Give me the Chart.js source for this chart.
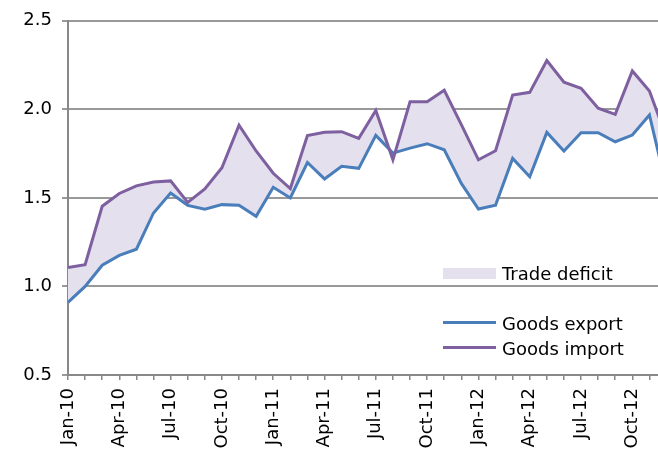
<!DOCTYPE html>
<html>
<head>
<meta charset="utf-8">
<script src="https://cdn.jsdelivr.net/npm/chart.js@4"></script>
<style>
  body { margin: 0; background: #fff; }
  #wrap { position: relative; width: 658px; height: 452px; overflow: hidden; }
  .key { position: absolute; left: 502px; font: 18px "DejaVu Sans", sans-serif; line-height: 18px; color: #000; white-space: nowrap; }
  .swatch { position: absolute; left: 443px; width: 53px; }
</style>
</head>
<body>
<div id="wrap">
  <canvas id="chart"></canvas>
  <div class="swatch" style="top:268px;height:11px;background:#e4e0ee"></div>
  <div class="key" style="top:265px">Trade deficit</div>
  <div class="swatch" style="top:321px;height:3px;background:#4a7ebb"></div>
  <div class="key" style="top:315px">Goods export</div>
  <div class="swatch" style="top:346px;height:3px;background:#7e60a0"></div>
  <div class="key" style="top:340px">Goods import</div>
</div>
<script>
// monthly, Jan-10 .. Dec-12 (last month is cut off at the right edge)
const months = [
  'Jan-10','Feb-10','Mar-10','Apr-10','May-10','Jun-10','Jul-10','Aug-10','Sep-10','Oct-10','Nov-10','Dec-10',
  'Jan-11','Feb-11','Mar-11','Apr-11','May-11','Jun-11','Jul-11','Aug-11','Sep-11','Oct-11','Nov-11','Dec-11',
  'Jan-12','Feb-12','Mar-12','Apr-12','May-12','Jun-12','Jul-12','Aug-12','Sep-12','Oct-12','Nov-12','Dec-12'
];
const goodsExport = [
  0.91, 1.00, 1.12, 1.175, 1.21, 1.415, 1.528, 1.458, 1.436, 1.462, 1.458, 1.396,
  1.56, 1.50, 1.70, 1.607, 1.679, 1.667, 1.853, 1.753, 1.781, 1.806, 1.772, 1.582,
  1.437, 1.459, 1.723, 1.619, 1.87, 1.765, 1.868, 1.868, 1.817, 1.855, 1.968, 1.56
];
const goodsImport = [
  1.107, 1.123, 1.453, 1.525, 1.568, 1.59, 1.596, 1.474, 1.55, 1.67, 1.91, 1.765,
  1.639, 1.553, 1.852, 1.871, 1.874, 1.836, 1.994, 1.715, 2.043, 2.043, 2.108, 1.914,
  1.715, 1.766, 2.081, 2.096, 2.276, 2.153, 2.119, 2.006, 1.972, 2.217, 2.104, 1.84
];
const yTicks = [0.5, 1.0, 1.5, 2.0, 2.5];

const blue = '#4a7ebb';
const purple = '#7e60a0';
const deficitFill = '#e4e0ee';
const font = { family: 'DejaVu Sans', size: 18 };

const pts = arr => arr.map((v, i) => ({ x: i, y: v }));

new Chart(document.getElementById('chart'), {
  type: 'line',
  data: {
    datasets: [
      { label: 'Goods export', data: pts(goodsExport), borderColor: blue, borderWidth: 3, pointRadius: 0, tension: 0, fill: false, order: 1 },
      { label: 'Goods import', data: pts(goodsImport), borderColor: purple, borderWidth: 3, pointRadius: 0, tension: 0, fill: false, order: 0 },
      { label: 'Trade deficit', data: pts(goodsImport), borderWidth: 0, borderColor: 'rgba(0,0,0,0)', backgroundColor: deficitFill, pointRadius: 0, tension: 0, fill: 0, order: 5 }
    ]
  },
  options: {
    responsive: true,
    maintainAspectRatio: false,
    animation: false,
    layout: { padding: { top: 19, right: 0, left: 0, bottom: 0 } },
    plugins: {
      legend: { display: false },
      tooltip: { enabled: false },
      filler: { drawTime: 'beforeDatasetsDraw' }
    },
    scales: {
      x: {
        type: 'linear',
        min: 0,
        max: 34.5,
        afterBuildTicks: s => { s.ticks = months.slice(0, 35).map((m, i) => ({ value: i })); },
        afterFit: s => { s.height = 77; s.paddingLeft = 0; s.paddingRight = 0; },
        ticks: {
          autoSkip: false,
          maxRotation: 90,
          minRotation: 90,
          padding: 8,
          color: '#000',
          font: font,
          callback: v => (v % 3 === 0 ? months[v] : '')
        },
        grid: { drawOnChartArea: false, drawTicks: true, tickLength: 5, color: '#888', lineWidth: 1.5 },
        border: { color: '#888', width: 2 }
      },
      y: {
        min: 0.5,
        max: 2.5,
        afterBuildTicks: s => { s.ticks = yTicks.map(v => ({ value: v })); },
        afterFit: s => { s.width = 68; },
        ticks: { color: '#000', font: font, padding: 10, callback: v => v.toFixed(1) },
        grid: { color: '#999', lineWidth: 2, tickLength: 6 },
        border: { color: '#888', width: 2 }
      }
    }
  }
});
</script>
</body>
</html>
